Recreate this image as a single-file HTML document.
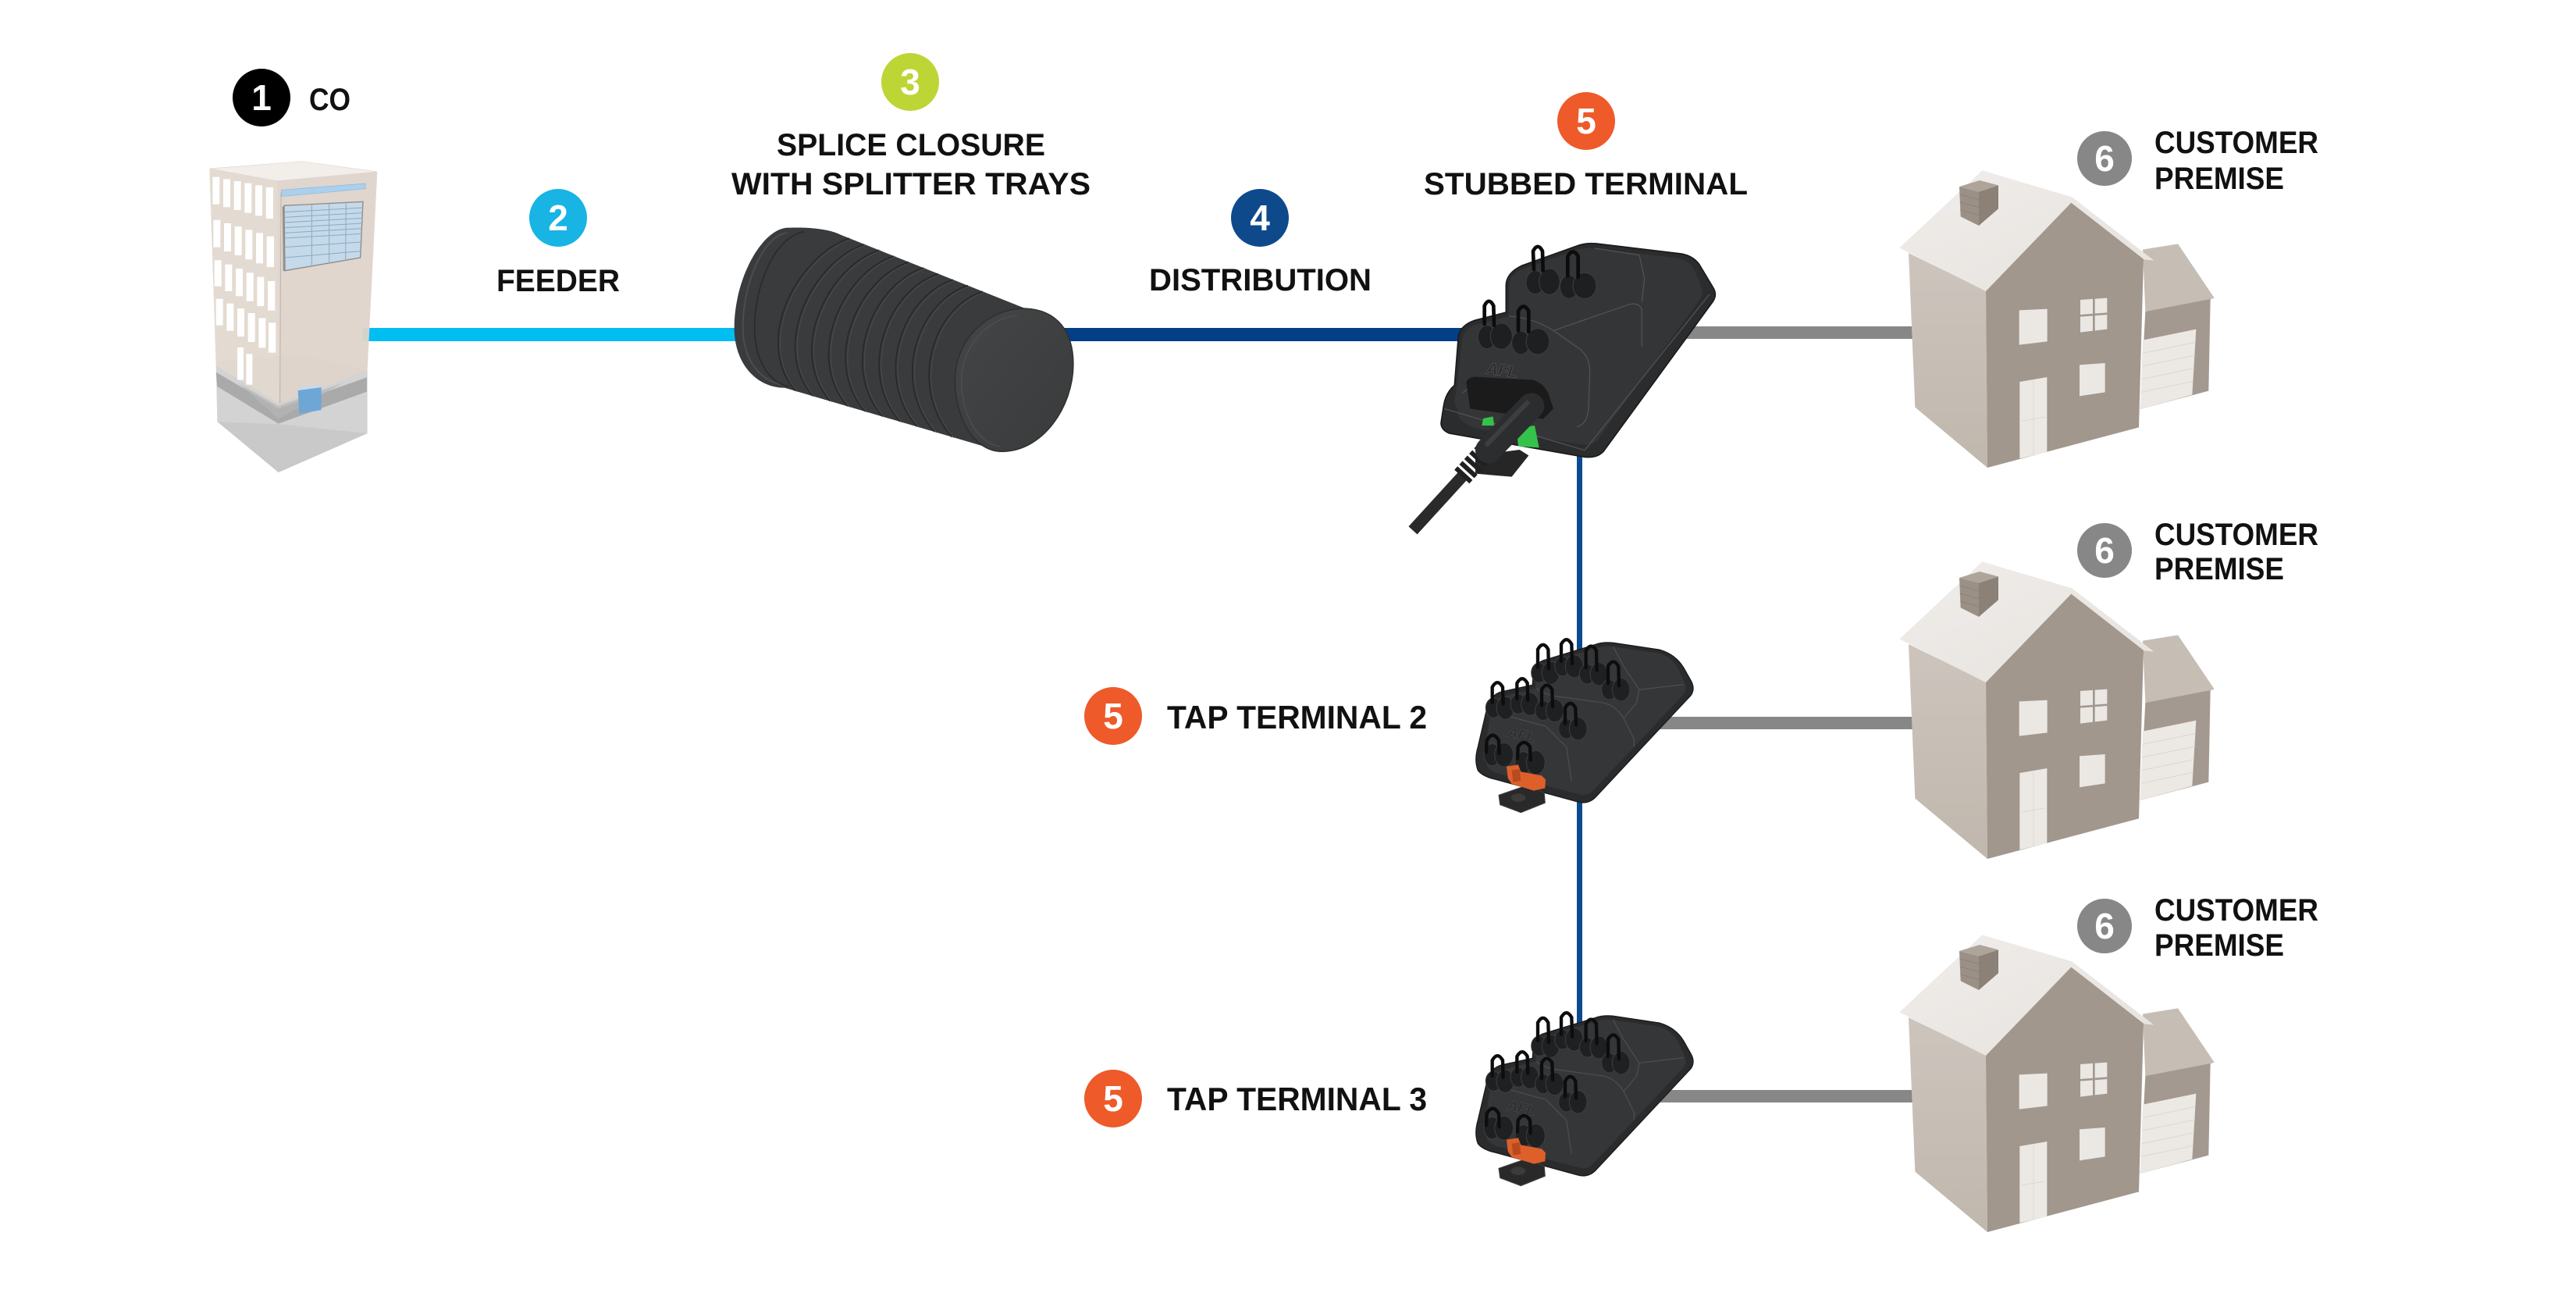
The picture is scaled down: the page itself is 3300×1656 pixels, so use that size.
<!DOCTYPE html>
<html>
<head>
<meta charset="utf-8">
<style>
html,body{margin:0;padding:0;background:#fff;}
svg{display:block;}
</style>
</head>
<body>
<svg xmlns="http://www.w3.org/2000/svg" width="3300" height="1656" viewBox="0 0 3300 1656">
<defs>
  <linearGradient id="lw" x1="0" y1="0" x2="0" y2="1">
    <stop offset="0" stop-color="#cdc5bd"/>
    <stop offset="1" stop-color="#c0b7ad"/>
  </linearGradient>
  <linearGradient id="rf" x1="0" y1="0" x2="1" y2="1">
    <stop offset="0" stop-color="#f0edea"/>
    <stop offset="1" stop-color="#e6e2de"/>
  </linearGradient>
  <linearGradient id="cap" x1="0" y1="0" x2="1" y2="1">
    <stop offset="0" stop-color="#444546"/>
    <stop offset="1" stop-color="#3a3b3c"/>
  </linearGradient>

  <g id="house">
    <polygon points="75,375 372,520 378,1200 100,968" fill="url(#lw)"/>
    <polygon points="975,362 1110,340 1250,548 1235,553 985,600" fill="#c6bdb4"/>
    <polygon points="985,600 1235,552 1228,905 965,975" fill="#a39990"/>
    <polygon points="975,710 1180,668 1165,920 965,975" fill="#ece8e4"/>
    <g stroke="#dcd7d2" stroke-width="3">
      <line x1="975" y1="760" x2="1178" y2="718"/>
      <line x1="973" y1="810" x2="1176" y2="768"/>
      <line x1="971" y1="860" x2="1172" y2="818"/>
      <line x1="969" y1="910" x2="1169" y2="868"/>
    </g>
    <polygon points="372,520 700,180 978,398 960,1045 378,1200" fill="#a1978d"/>
    <polygon points="40,355 358,58 703,160 1018,404 980,400 700,182 372,522" fill="url(#rf)"/>
    <polygon points="270,120 345,140 345,270 275,235" fill="#9b9086"/>
    <polygon points="345,140 420,115 420,205 345,270" fill="#8b8177"/>
    <polygon points="270,120 348,96 420,115 345,140" fill="#aea49a"/>
    <g stroke="#877d73" stroke-width="2">
      <line x1="272" y1="150" x2="345" y2="170"/>
      <line x1="273" y1="180" x2="345" y2="200"/>
      <line x1="274" y1="210" x2="345" y2="230"/>
      <line x1="345" y1="170" x2="420" y2="145"/>
      <line x1="345" y1="200" x2="420" y2="175"/>
    </g>
    <polygon points="500,595 608,590 608,715 500,728" fill="#ebe7e3"/>
    <polygon points="735,555 838,548 838,668 735,680" fill="#ebe7e3"/>
    <line x1="787" y1="550" x2="787" y2="676" stroke="#a1978d" stroke-width="8"/>
    <line x1="735" y1="616" x2="838" y2="608" stroke="#a1978d" stroke-width="8"/>
    <polygon points="732,805 830,798 830,910 732,925" fill="#ebe7e3"/>
    <polygon points="502,870 607,852 607,1140 502,1165" fill="#ece8e4"/>
    <g stroke="#d8d3ce" stroke-width="2" fill="none">
      <line x1="555" y1="862" x2="555" y2="1152"/>
      <line x1="510" y1="1020" x2="600" y2="1005"/>
    </g>
  </g>

  <g id="tap">
    <path d="M 40,470 Q 25,520 40,560 Q 60,585 110,595 L 420,680 Q 462,692 490,665 L 858,272 Q 875,248 860,218 L 830,165 Q 800,115 740,97 L 560,70 Q 520,66 490,77 L 290,138 Q 255,152 252,190 L 250,232 L 130,258 Q 85,272 75,320 Z" fill="#2a2b2d" stroke="#1b1b1c" stroke-width="4"/>
    <path d="M 70,460 L 90,320 Q 100,285 140,275 L 262,245 L 265,190 Q 270,160 300,150 L 495,90 Q 525,80 560,85 L 735,110 Q 785,125 810,170 L 835,225 Q 845,250 828,270 L 480,640 Q 460,660 430,652 L 110,570 Q 70,555 70,520 Z" fill="#353638"/>
    <g stroke="#4b4c4e" stroke-width="4" fill="none">
      <path d="M 265,245 Q 300,270 340,275 L 520,300 Q 570,310 600,360 L 640,440 L 640,470"/>
      <path d="M 600,360 L 650,300 L 660,250 L 830,230"/>
      <path d="M 560,85 L 600,160 L 660,250"/>
      <path d="M 90,330 Q 180,360 300,390 L 380,470 L 400,600"/>
    </g>
    <text x="150" y="430" font-family="Liberation Sans, sans-serif" font-weight="bold" font-style="italic" font-size="56" fill="#2a2a2b" stroke="#4a4a4c" stroke-width="2" transform="rotate(12 150 430)">AFL</text>
    <g fill="#1f2021" stroke="#3d3e40" stroke-width="3">
      <ellipse cx="275" cy="185" rx="30" ry="38"/><ellipse cx="320" cy="185" rx="34" ry="44"/>
      <ellipse cx="365" cy="160" rx="30" ry="38"/><ellipse cx="410" cy="160" rx="34" ry="44"/>
      <ellipse cx="460" cy="190" rx="30" ry="38"/><ellipse cx="505" cy="190" rx="34" ry="44"/>
      <ellipse cx="545" cy="250" rx="30" ry="38"/><ellipse cx="590" cy="250" rx="34" ry="44"/>
      <ellipse cx="100" cy="320" rx="30" ry="38"/><ellipse cx="145" cy="320" rx="34" ry="44"/>
      <ellipse cx="195" cy="305" rx="30" ry="38"/><ellipse cx="240" cy="305" rx="34" ry="44"/>
      <ellipse cx="290" cy="330" rx="30" ry="38"/><ellipse cx="335" cy="330" rx="34" ry="44"/>
      <ellipse cx="380" cy="400" rx="30" ry="38"/><ellipse cx="425" cy="400" rx="34" ry="44"/>
      <ellipse cx="95" cy="500" rx="32" ry="42"/><ellipse cx="140" cy="500" rx="36" ry="46"/>
      <ellipse cx="215" cy="530" rx="32" ry="42"/><ellipse cx="262" cy="530" rx="36" ry="46"/>
    </g>
    <g stroke="#0d0d0e" stroke-width="13" fill="none" stroke-linecap="round">
      <path d="M 270,165 L 270,95 Q 290,60 310,95 L 312,170"/>
      <path d="M 360,140 L 360,75 Q 380,40 400,75 L 402,150"/>
      <path d="M 455,165 L 455,100 Q 475,65 495,100 L 497,175"/>
      <path d="M 540,225 L 540,160 Q 560,125 580,160 L 582,235"/>
      <path d="M 95,300 L 95,240 Q 115,205 135,240 L 137,305"/>
      <path d="M 190,285 L 190,225 Q 210,190 230,225 L 232,290"/>
      <path d="M 285,310 L 285,250 Q 305,215 325,250 L 327,315"/>
      <path d="M 375,380 L 375,320 Q 395,285 415,320 L 417,385"/>
      <path d="M 72,490 L 74,445 Q 97,405 120,445 L 122,495"/>
      <path d="M 192,515 L 194,470 Q 217,435 240,470 L 242,520"/>
    </g>
    <polygon points="120,655 235,615 295,648 298,685 205,722 125,692" fill="#29292a" stroke="#444" stroke-width="3"/>
    <ellipse cx="195" cy="665" rx="28" ry="16" fill="#3b3b3c"/>
    <polygon points="150,545 195,538 205,565 285,580 300,595 298,628 255,638 170,612 155,590" fill="#df5f2b"/>
    <polygon points="170,560 200,555 205,600 175,605" fill="#b84a20"/>
  </g>
</defs>

<rect x="0" y="0" width="3300" height="1656" fill="#ffffff"/>

<rect x="465" y="420" width="530" height="17" fill="#00bdf2"/>
<rect x="1330" y="420" width="570" height="17" fill="#033f86"/>
<rect x="2150" y="418" width="300" height="16" fill="#878787"/>
<rect x="2120" y="918" width="330" height="16" fill="#878787"/>
<rect x="2120" y="1396" width="330" height="16" fill="#878787"/>
<rect x="2020" y="560" width="7" height="760" fill="#0b4a8e"/>

<g transform="translate(240,190) scale(0.33333)">
  <polygon points="110,820 430,790 692,852 692,1095 350,1245 115,1050" fill="#d3d3d3"/>
  <polygon points="115,1050 350,1245 692,1095 350,1060" fill="#c9c9c9"/>
  <polygon points="110,860 350,1000 690,880 690,935 350,1058 115,915" fill="#9c9c9c" opacity="0.75"/>
  <polygon points="200,905 350,990 600,900 350,1040" fill="#b5b5b5" opacity="0.7"/>
  <polygon points="85,78 345,125 352,980 110,835" fill="#e2d8cf" opacity="0.95"/>
  <polygon points="345,125 730,90 692,852 352,980" fill="#ded4cb" opacity="0.95"/>
  <polygon points="85,78 440,50 730,90 345,125" fill="#f2eeea" stroke="#e0d8d0" stroke-width="2"/>
  <g fill="#ffffff">
    <rect x="97" y="110" width="27" height="105"/><rect x="138" y="118" width="27" height="108"/><rect x="179" y="126" width="27" height="111"/><rect x="220" y="134" width="27" height="114"/><rect x="261" y="142" width="27" height="117"/><rect x="302" y="150" width="28" height="120"/>
    <rect x="100" y="275" width="27" height="105"/><rect x="141" y="288" width="27" height="108"/><rect x="182" y="300" width="27" height="111"/><rect x="223" y="313" width="27" height="114"/><rect x="264" y="325" width="27" height="117"/><rect x="305" y="338" width="28" height="118"/>
    <rect x="104" y="430" width="27" height="100"/><rect x="145" y="446" width="27" height="103"/><rect x="186" y="462" width="27" height="106"/><rect x="227" y="478" width="27" height="109"/><rect x="268" y="494" width="27" height="112"/><rect x="309" y="510" width="28" height="113"/>
    <rect x="110" y="578" width="27" height="102"/><rect x="151" y="596" width="27" height="105"/><rect x="192" y="615" width="27" height="108"/><rect x="233" y="633" width="27" height="111"/><rect x="274" y="652" width="27" height="114"/><rect x="312" y="670" width="28" height="115"/>
    <rect x="192" y="765" width="24" height="125"/><rect x="226" y="790" width="24" height="118"/>
  </g>
  <line x1="360" y1="170" x2="356" y2="980" stroke="#bcb4ac" stroke-width="3"/>
  <polygon points="362,160 685,135 685,155 362,185" fill="#a9d0ee" stroke="#8fb8d8" stroke-width="2"/>
  <polygon points="365,225 372,220 375,470 368,472" fill="#9a948e"/>
  <polygon points="372,220 675,205 665,420 375,470" fill="#c4daeb" stroke="#8e8a86" stroke-width="4"/>
  <g stroke="#8ea8bd" stroke-width="3">
    <line x1="478" y1="215" x2="478" y2="455"/>
    <line x1="545" y1="212" x2="545" y2="442"/>
    <line x1="610" y1="208" x2="608" y2="432"/>
    <line x1="372" y1="245" x2="675" y2="228"/>
    <line x1="372" y1="265" x2="674" y2="248"/>
    <line x1="373" y1="285" x2="673" y2="268"/>
    <line x1="373" y1="305" x2="672" y2="288"/>
    <line x1="373" y1="325" x2="671" y2="308"/>
    <line x1="374" y1="345" x2="670" y2="328"/>
    <line x1="374" y1="380" x2="668" y2="360"/>
    <line x1="375" y1="420" x2="667" y2="395"/>
  </g>
  <polygon points="425,930 515,918 515,1005 430,1020" fill="#6ea6d6"/>
  <polygon points="425,930 515,918 512,910 428,920" fill="#c2dcef"/>
</g>

<g transform="translate(930,280) scale(0.33333)">
  <path d="M 240,35 C 140,35 32,230 32,420 C 32,560 120,650 225,650 L 1060,895 C 1220,895 1335,720 1335,560 C 1335,430 1270,350 1150,345 L 440,62 C 400,40 320,32 240,35 Z" fill="#3a3b3c"/>
  <path d="M 235,55 C 150,60 65,240 65,420 C 65,550 140,630 225,640" fill="none" stroke="#4c4d4e" stroke-width="6"/>
  <path d="M 300,50 C 190,70 110,250 110,420 C 110,550 170,630 240,645" fill="none" stroke="#2a2b2c" stroke-width="5"/>
  <g fill="none" stroke-width="5">
    <g stroke="#28292a">
      <path d="M 475,76 C 285,136 97,462 267,662"/>
      <path d="M 532,99 C 342,159 164,482 334,682"/>
      <path d="M 589,121 C 399,181 230,501 400,701"/>
      <path d="M 646,144 C 456,204 297,521 467,721"/>
      <path d="M 703,167 C 513,227 364,541 534,741"/>
      <path d="M 760,189 C 570,249 431,560 601,760"/>
      <path d="M 816,212 C 626,272 498,580 668,780"/>
      <path d="M 873,235 C 683,295 564,599 734,799"/>
      <path d="M 930,257 C 740,317 631,619 801,819"/>
      <path d="M 987,280 C 797,340 698,639 868,839"/>
    </g>
    <g stroke="#4a4b4d" stroke-width="3">
      <path d="M 483,79 C 293,139 105,465 275,665"/>
      <path d="M 540,102 C 350,162 172,485 342,685"/>
      <path d="M 597,124 C 407,184 238,504 408,704"/>
      <path d="M 654,147 C 464,207 305,524 475,724"/>
      <path d="M 711,170 C 521,230 372,544 542,744"/>
      <path d="M 768,192 C 578,252 439,563 609,763"/>
      <path d="M 824,215 C 634,275 506,583 676,783"/>
      <path d="M 881,238 C 691,298 572,602 742,802"/>
      <path d="M 938,260 C 748,320 639,622 809,822"/>
      <path d="M 995,283 C 805,343 706,642 876,842"/>
    </g>
  </g>
  <path d="M 1150,345 C 1270,350 1335,430 1335,560 C 1335,720 1220,895 1060,895 C 950,895 880,760 880,620 C 880,470 1000,345 1150,345 Z" fill="url(#cap)" stroke="#2c2d2e" stroke-width="4"/>
  <path d="M 1120,372 C 1010,380 905,490 905,620 C 905,750 965,860 1050,875" fill="none" stroke="#4e4f51" stroke-width="4"/>
</g>

<g transform="translate(1790,290) scale(0.33333)">
  <polygon points="300,880 470,858 505,880 440,962 300,950" fill="#262627"/>
  <path d="M 178,690 L 168,755 Q 168,782 200,795 L 715,885 Q 765,893 792,865 L 1212,290 Q 1232,262 1212,232 L 1160,145 Q 1135,112 1090,105 L 765,66 Q 725,62 690,75 L 480,150 Q 420,178 418,225 L 418,330 L 300,360 Q 245,378 235,420 L 220,610 Q 185,640 178,690 Z" fill="#2b2c2d" stroke="#1b1b1c" stroke-width="5"/>
  <path d="M 250,430 Q 260,390 300,378 L 430,345 L 430,225 Q 432,185 480,165 L 690,90 Q 725,80 760,84 L 1080,122 Q 1120,130 1140,165 L 1170,235 Q 1178,258 1163,280 L 770,820 Q 750,842 720,838 L 320,780 Q 270,770 240,740 L 230,700 Q 215,680 225,640 Z" fill="#343537"/>
  <g stroke="#505153" stroke-width="4" fill="none">
    <path d="M 430,345 Q 520,350 600,400 L 700,470 Q 740,500 740,560 L 735,700 Q 730,760 690,770"/>
    <path d="M 600,400 L 890,300 Q 930,290 940,320 L 940,460"/>
    <path d="M 760,84 L 930,110 L 950,200 L 940,290"/>
    <path d="M 250,640 Q 300,600 360,600"/>
    <path d="M 180,700 L 720,860 L 1200,260"/>
  </g>
  <path d="M 265,600 Q 270,580 300,578 L 520,590 Q 560,600 580,640 L 600,700 L 560,740 L 280,700 Z" fill="#1b1b1c"/>
  <text x="340" y="565" font-family="Liberation Sans, sans-serif" font-weight="bold" font-style="italic" font-size="62" fill="#262627" stroke="#4c4c4e" stroke-width="3" transform="rotate(8 340 565)">AFL</text>
  <g fill="#1e1f20" stroke="#3d3e40" stroke-width="3">
    <ellipse cx="530" cy="215" rx="35" ry="45"/><ellipse cx="585" cy="212" rx="40" ry="50"/>
    <ellipse cx="660" cy="232" rx="35" ry="45"/><ellipse cx="720" cy="228" rx="45" ry="50"/>
    <ellipse cx="345" cy="425" rx="35" ry="45"/><ellipse cx="400" cy="422" rx="42" ry="50"/>
    <ellipse cx="475" cy="447" rx="35" ry="45"/><ellipse cx="540" cy="442" rx="45" ry="50"/>
  </g>
  <g stroke="#0c0c0c" stroke-width="14" fill="none" stroke-linecap="round">
    <path d="M 525,165 L 522,95 Q 540,60 558,95 L 560,170"/>
    <path d="M 655,190 L 655,115 Q 675,80 695,115 L 695,195"/>
    <path d="M 335,375 L 335,305 Q 352,270 370,305 L 372,380"/>
    <path d="M 465,400 L 465,325 Q 485,290 505,325 L 505,405"/>
  </g>
  <polygon points="330,738 368,730 372,765 325,765" fill="#35c24a"/>
  <polygon points="458,775 528,765 545,850 465,845" fill="#35c24a"/>
  <line x1="250" y1="960" x2="60" y2="1168" stroke="#2a2a2b" stroke-width="45"/>
  <line x1="355" y1="845" x2="245" y2="965" stroke="#202021" stroke-width="78" stroke-dasharray="18 10"/>
  <line x1="515" y1="690" x2="350" y2="860" stroke="#2c2d2e" stroke-width="100" stroke-linecap="round"/>
  <line x1="505" y1="672" x2="340" y2="842" stroke="#3d3e40" stroke-width="18"/>
</g>

<g transform="translate(1880,800) scale(0.33333)"><use href="#tap"/></g>
<g transform="translate(1880,1278) scale(0.33333)"><use href="#tap"/></g>

<g transform="translate(2420,199) scale(0.33333)"><use href="#house"/></g>
<g transform="translate(2420,700) scale(0.33333)"><use href="#house"/></g>
<g transform="translate(2420,1178) scale(0.33333)"><use href="#house"/></g>

<g font-family="Liberation Sans, Arial, sans-serif" font-weight="bold" font-size="46" fill="#ffffff" text-anchor="middle">
  <circle cx="335" cy="125" r="37" fill="#000000"/><text x="335" y="141">1</text>
  <circle cx="715" cy="279" r="37" fill="#17b4e4"/><text x="715" y="295">2</text>
  <circle cx="1166" cy="105" r="37" fill="#bdd535"/><text x="1166" y="121">3</text>
  <circle cx="1614" cy="279" r="37" fill="#0e4a8b"/><text x="1614" y="295">4</text>
  <circle cx="2032" cy="155" r="37" fill="#ee5a29"/><text x="2032" y="171">5</text>
  <circle cx="1426" cy="917" r="37" fill="#ee5a29"/><text x="1426" y="933">5</text>
  <circle cx="1426" cy="1407" r="37" fill="#ee5a29"/><text x="1426" y="1423">5</text>
  <circle cx="2696" cy="203" r="35" fill="#878787"/><text x="2696" y="219">6</text>
  <circle cx="2696" cy="705" r="35" fill="#878787"/><text x="2696" y="721">6</text>
  <circle cx="2696" cy="1186" r="35" fill="#878787"/><text x="2696" y="1202">6</text>
</g>

<g font-family="Liberation Sans, Arial, sans-serif" font-weight="bold" font-size="40" fill="#111111">
  <text x="396" y="141" textLength="53" lengthAdjust="spacingAndGlyphs">CO</text>
  <text x="995" y="199" textLength="344" lengthAdjust="spacingAndGlyphs">SPLICE CLOSURE</text>
  <text x="937" y="249" textLength="460" lengthAdjust="spacingAndGlyphs">WITH SPLITTER TRAYS</text>
  <text x="636" y="373" textLength="158" lengthAdjust="spacingAndGlyphs">FEEDER</text>
  <text x="1472" y="372" textLength="285" lengthAdjust="spacingAndGlyphs">DISTRIBUTION</text>
  <text x="1824" y="249" textLength="415" lengthAdjust="spacingAndGlyphs">STUBBED TERMINAL</text>
  <text x="2760" y="196" textLength="210" lengthAdjust="spacingAndGlyphs">CUSTOMER</text>
  <text x="2760" y="242" textLength="166" lengthAdjust="spacingAndGlyphs">PREMISE</text>
  <text x="2760" y="698" textLength="210" lengthAdjust="spacingAndGlyphs">CUSTOMER</text>
  <text x="2760" y="742" textLength="166" lengthAdjust="spacingAndGlyphs">PREMISE</text>
  <text x="2760" y="1179" textLength="210" lengthAdjust="spacingAndGlyphs">CUSTOMER</text>
  <text x="2760" y="1224" textLength="166" lengthAdjust="spacingAndGlyphs">PREMISE</text>
  <text x="1495" y="933" font-size="42" textLength="333" lengthAdjust="spacingAndGlyphs">TAP TERMINAL 2</text>
  <text x="1495" y="1422" font-size="42" textLength="333" lengthAdjust="spacingAndGlyphs">TAP TERMINAL 3</text>
</g>
</svg>
</body>
</html>
